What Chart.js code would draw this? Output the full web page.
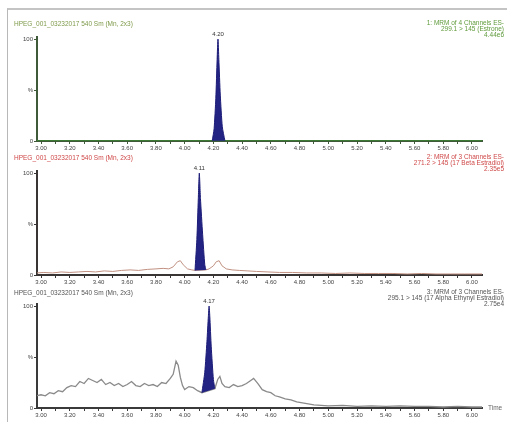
<!DOCTYPE html>
<html><head><meta charset="utf-8">
<script src="https://cdn.jsdelivr.net/npm/chart.js@4.4.0/dist/chart.umd.min.js"></script>
<style>
html,body{margin:0;padding:0;background:#fff;width:507px;height:422px;overflow:hidden;position:relative;font-family:"Liberation Sans",Arial,sans-serif;}
.frame{position:absolute;left:7px;top:8px;width:500px;height:414px;border-left:1px solid #b8b8b8;border-top:2px solid #c4c4c4;}
canvas{position:absolute;left:0;}
.t{position:absolute;font-size:6.5px;line-height:6px;white-space:nowrap;z-index:2;}
.r{text-align:right;right:3px;}
</style></head><body>
<div class="frame"></div>
<canvas id="c1" width="507" height="130" style="top:25px"></canvas>
<canvas id="c2" width="507" height="130" style="top:159px"></canvas>
<canvas id="c3" width="507" height="130" style="top:292px"></canvas>

<div class="t" style="left:14px;top:21px;color:#7f9a4a">HPEG_001_03232017 540 Sm (Mn, 2x3)</div>
<div class="t r" style="top:20px;color:#5e9a3a">1: MRM of 4 Channels ES-<br>299.1 &gt; 145 (Estrone)<br>4.44e6</div>
<div class="t" style="left:14px;top:155px;color:#d04848">HPEG_001_03232017 540 Sm (Mn, 2x3)</div>
<div class="t r" style="top:154px;color:#d04848">2: MRM of 3 Channels ES-<br>271.2 &gt; 145 (17 Beta Estradiol)<br>2.35e5</div>
<div class="t" style="left:14px;top:290px;color:#555">HPEG_001_03232017 540 Sm (Mn, 2x3)</div>
<div class="t r" style="top:289px;color:#555">3: MRM of 3 Channels ES-<br>295.1 &gt; 145 (17 Alpha Ethynyl Estradiol)<br>2.75e4</div>
<div class="t" style="left:488px;top:405px;color:#666">Time</div>

<script>
// ---- Data ----
const xTickValues = [3.0,3.1,3.2,3.3,3.4,3.5,3.6,3.7,3.8,3.9,4.0,4.1,4.2,4.3,4.4,4.5,4.6,4.7,4.8,4.9,5.0,5.1,5.2,5.3,5.4,5.5,5.6,5.7,5.8,5.9,6.0];
const xTickLabels = ['3.00','','3.20','','3.40','','3.60','','3.80','','4.00','','4.20','','4.40','','4.60','','4.80','','5.00','','5.20','','5.40','','5.60','','5.80','','6.00'];
const yTickValues = [0,50,100];
const yTickLabels = ['0','%','100'];

// Panel 1: Estrone
const trace1T = [2.97,3.50,4.00,4.19,4.28,4.60,5.20,5.80,6.07];
const trace1V = [0.3,0.3,0.3,0.3,0.3,0.3,0.3,0.3,0.3];
const peak1T = [4.192,4.205,4.217,4.226,4.232,4.238,4.248,4.262,4.28];
const peak1V = [0.3,12,42,80,100,80,45,14,0.3];
const base1T = [4.192,4.28];
const base1V = [0.3,0.3];

// Panel 2: 17 Beta Estradiol
const trace2T = [2.97,3.02,3.08,3.14,3.20,3.26,3.32,3.38,3.44,3.50,3.56,3.62,3.68,3.74,3.80,3.85,3.89,3.92,3.95,3.97,3.99,4.02,4.05,4.072,4.148,4.17,4.20,4.22,4.24,4.26,4.29,4.33,4.38,4.44,4.50,4.58,4.66,4.75,4.85,4.95,5.05,5.15,5.25,5.35,5.45,5.55,5.65,5.75,5.85,5.95,6.07];
const trace2V = [2,2.5,2,3,2.5,3,3.5,3,4,3.5,4.5,5,4.5,5.5,6,6.5,6,8,13,14,10,6,5,4.5,5,6,9,13,14,9,6,5,4.5,4,3.5,3,2.5,2.5,2,2,1.5,2,1.5,1.5,1.5,1,1.5,1,1,1,1];
const peak2T = [4.072,4.085,4.095,4.102,4.11,4.125,4.14,4.148];
const peak2V = [4.5,35,75,100,75,40,10,5];
const base2T = [4.072,4.148];
const base2V = [4.5,5];

// Panel 3: 17 Alpha Ethynyl Estradiol
const trace3T = [2.97,3.00,3.03,3.06,3.09,3.12,3.15,3.18,3.21,3.24,3.27,3.30,3.33,3.36,3.39,3.42,3.45,3.48,3.51,3.54,3.57,3.60,3.63,3.66,3.69,3.72,3.75,3.78,3.81,3.84,3.87,3.90,3.92,3.94,3.955,3.97,3.985,4.00,4.03,4.06,4.09,4.12,4.21,4.23,4.245,4.26,4.28,4.31,4.34,4.37,4.40,4.43,4.46,4.48,4.51,4.54,4.57,4.60,4.63,4.66,4.70,4.74,4.78,4.82,4.86,4.90,4.95,5.00,5.10,5.20,5.30,5.40,5.50,5.60,5.70,5.80,5.90,6.00,6.07];
const trace3V = [12,13,12,15,14,17,16,20,22,21,26,24,29,27,25,28,23,25,22,24,21,23,26,22,21,24,22,23,21,25,24,29,33,46,42,30,22,18,21,20,17,15,19,28,31,24,21,20,23,21,22,24,27,29,24,18,16,15,12,11,9,8,6,5,4,3,2.5,2,2.5,1.5,2,1.5,2,1.5,1.5,1,1.5,1,1];
const peak3T = [4.12,4.14,4.155,4.165,4.17,4.175,4.185,4.20,4.21];
const peak3V = [15,35,65,90,100,90,60,28,19];
const base3T = [4.12,4.21];
const base3V = [15,19];

const peakLabels = ['4.20','4.11','4.17'];

// ---- Chart building ----
const pts = (T,V) => T.map((t,i)=>({x:t,y:V[i]}));

const peakLabelPlugin = {
  id:'peakLabel',
  afterDatasetsDraw(chart, args, opts){
    const {ctx, scales:{x,y}} = chart;
    ctx.save();
    ctx.font = '6px "Liberation Sans", Arial, sans-serif';
    ctx.fillStyle = opts.color;
    ctx.textAlign = 'center';
    ctx.textBaseline = 'bottom';
    ctx.fillText(opts.text, x.getPixelForValue(opts.t), y.getPixelForValue(opts.v) - 1.5);
    ctx.restore();
  }
};

function makePanel(id, tr, pk, base, traceColor, traceWidth, axisColor, label, apexT, apexV){
  new Chart(document.getElementById(id), {
    type:'line',
    data:{datasets:[
      {data:tr, borderColor:traceColor, borderWidth:traceWidth, pointRadius:0, tension:0, fill:false, order:3},
      {data:base, borderColor:'rgba(0,0,0,0)', borderWidth:0, pointRadius:0, tension:0, fill:false, order:2},
      {data:pk, borderColor:'#1c1c78', borderWidth:1, backgroundColor:'#232383', pointRadius:0, tension:0.2, fill:1, order:1}
    ]},
    options:{
      responsive:false, animation:false, events:[],
      layout:{padding:{left:0,right:25,top:12,bottom:0}},
      plugins:{legend:{display:false}, tooltip:{enabled:false},
        peakLabel:{text:label, t:apexT, v:apexV, color:'#333'}},
      scales:{
        x:{type:'linear', min:2.972, max:6.07,
          afterFit(s){ s.height = 14; },
          afterBuildTicks(s){ s.ticks = xTickValues.map(v=>({value:v})); },
          border:{display:true, color:axisColor, width:2},
          grid:{drawOnChartArea:false, drawTicks:true, tickLength:3, color:axisColor, tickColor:axisColor},
          ticks:{autoSkip:false, maxRotation:0, minRotation:0, padding:1, color:'#444',
            font:{family:'"Liberation Sans", Arial, sans-serif', size:6},
            callback(v){ const i = xTickValues.findIndex(q=>Math.abs(q-v)<1e-6); return i>=0 ? xTickLabels[i] : ''; }}
        },
        y:{type:'linear', min:0, max:102,
          afterFit(s){ s.width = 37; },
          afterBuildTicks(s){ s.ticks = yTickValues.map(v=>({value:v})); },
          border:{display:true, color:axisColor, width:2},
          grid:{drawOnChartArea:false, drawTicks:true, tickLength:3, color:axisColor, tickColor:axisColor},
          ticks:{padding:1, color:'#444', font:{family:'"Liberation Sans", Arial, sans-serif', size:6},
            callback(v){ const i = yTickValues.indexOf(v); return i>=0 ? yTickLabels[i] : ''; }}
        }
      }
    },
    plugins:[peakLabelPlugin]
  });
}

makePanel('c1', pts(trace1T,trace1V), pts(peak1T,peak1V), pts(base1T,base1V), '#3d7a33', 1.2, '#3f5a38', peakLabels[0], 4.232, 100);
makePanel('c2', pts(trace2T,trace2V), pts(peak2T,peak2V), pts(base2T,base2V), '#c09080', 1, '#3a3535', peakLabels[1], 4.102, 100);
makePanel('c3', pts(trace3T,trace3V), pts(peak3T,peak3V), pts(base3T,base3V), '#8a8a8a', 1.3, '#3a3a3a', peakLabels[2], 4.17, 100);
</script>
</body></html>
